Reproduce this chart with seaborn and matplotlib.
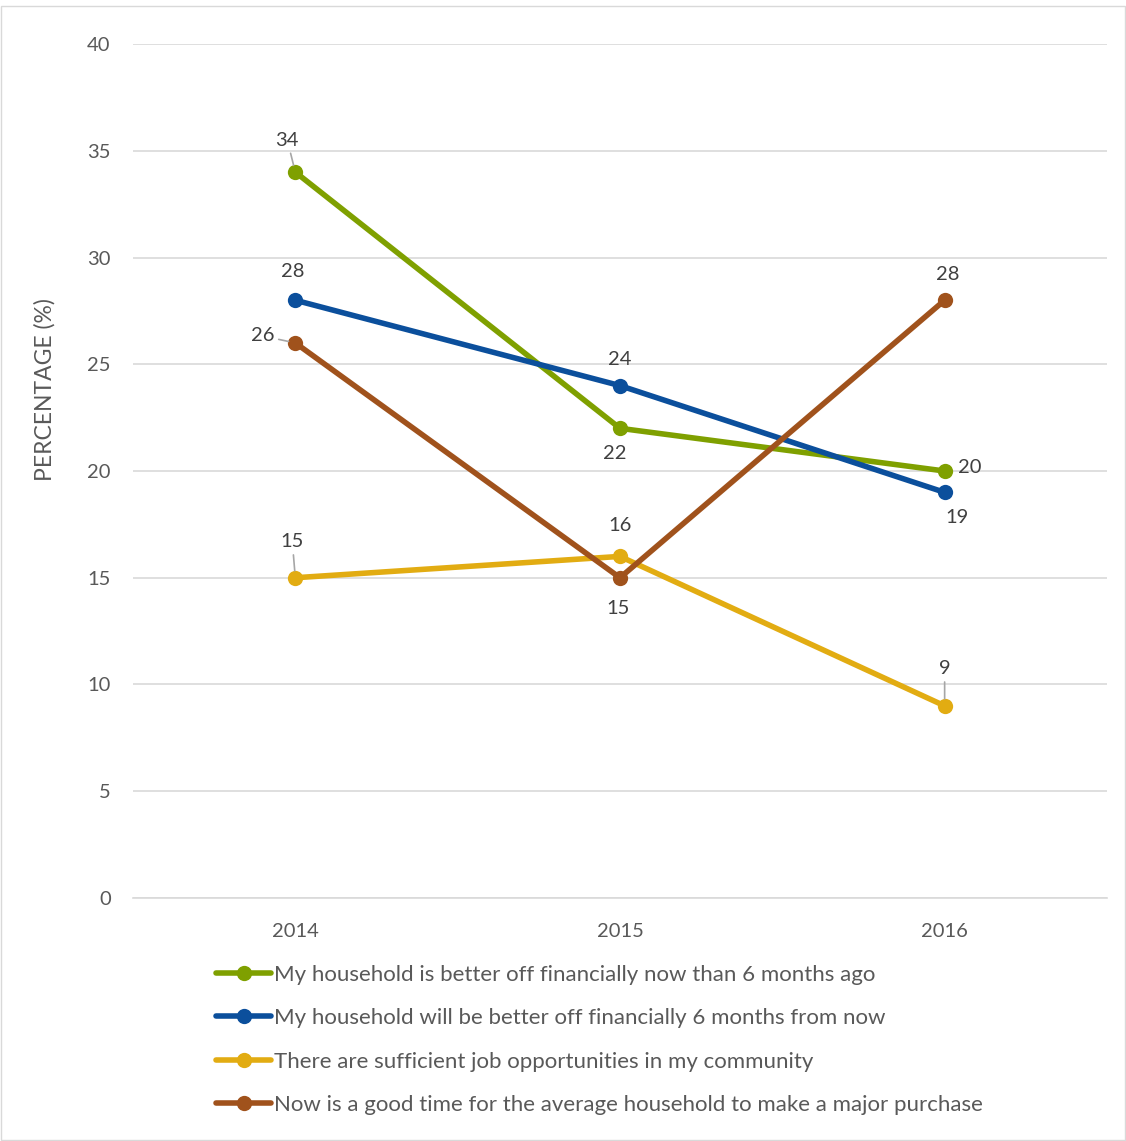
import pandas as pd
import seaborn as sns
import matplotlib.pyplot as plt
from matplotlib.patches import Rectangle

years = ["2014", "2015", "2016"]
better_now = [34, 22, 20]
better_future = [28, 24, 19]
job_opps = [15, 16, 9]
major_purchase = [26, 15, 28]

series_names = [
    "My household is better off financially now than 6 months ago",
    "My household will be better off financially 6 months from now",
    "There are sufficient job opportunities in my community",
    "Now is a good time for the average household to make a major purchase",
]
series_values = [better_now, better_future, job_opps, major_purchase]
colors = ["#7FA000", "#0B4F9C", "#E2AC12", "#A0521C"]

# label offsets (pixels) and whether a leader line is drawn
label_offsets = [
    [(-8, 32, True), (-5, -25, False), (25, 4, False)],
    [(-3, 29, False), (0, 26, False), (12, -25, False)],
    [(-3, 36, True), (0, 31, False), (0, 37, True)],
    [(-33, 7, True), (-2, -31, False), (3, 26, False)],
]

df = pd.DataFrame({
    "Year": years * 4,
    "Value": sum(series_values, []),
    "Series": [n for n in series_names for _ in years],
})

sns.set_style("white")
plt.rcParams["font.family"] = ["Lato", "DejaVu Sans"]
text_color = "#595959"

fig = plt.figure(figsize=(11.26, 11.41), dpi=100)
ax = fig.add_axes([0.1181, 0.2130, 0.8650, 0.7484])

sns.lineplot(data=df, x="Year", y="Value", hue="Series", palette=colors,
             marker="o", markersize=11, markeredgewidth=0, linewidth=4,
             ax=ax, zorder=3)

for vals, offs, col in zip(series_values, label_offsets, colors):
    for i, (v, (dx, dy, lead)) in enumerate(zip(vals, offs)):
        kw = {}
        if lead:
            kw["arrowprops"] = dict(arrowstyle="-", color="#A6A6A6", lw=1.2,
                                    shrinkA=1, shrinkB=5)
        ax.annotate(str(v), xy=(i, v), xytext=(dx, dy), textcoords="offset pixels",
                    ha="center", va="center", fontsize=14.5, color="#404040", **kw)

ax.set_ylim(0, 40)
ax.set_xlim(-0.5, 2.5)
ax.set_yticks(range(0, 41, 5))
ax.grid(axis="y", color="#D9D9D9", linewidth=1.2)
ax.grid(axis="x", visible=False)
for s in ["top", "right", "left"]:
    ax.spines[s].set_visible(False)
ax.spines["bottom"].set_color("#D9D9D9")
ax.spines["bottom"].set_linewidth(1.2)
ax.tick_params(axis="both", length=0, labelsize=14.5, labelcolor=text_color)
ax.tick_params(axis="x", pad=18)
ax.tick_params(axis="y", pad=16)
ax.set_xlabel("")
ax.set_ylabel("PERCENTAGE (%)", fontsize=16.5, color=text_color)
ax.yaxis.set_label_coords(-0.079, 0.595)

handles, labels = ax.get_legend_handles_labels()
ax.legend(handles, labels, loc="upper left", bbox_to_anchor=(0.076, -0.068),
          frameon=False, fontsize=16, labelcolor=text_color, handlelength=2.5,
          handletextpad=0.1, labelspacing=1.05, borderaxespad=0)

fig.patches.append(Rectangle((0.001, 0.001), 0.998, 0.994, transform=fig.transFigure,
                             fill=False, edgecolor="#D9D9D9", linewidth=1))

fig.savefig("out.png", dpi=100)
